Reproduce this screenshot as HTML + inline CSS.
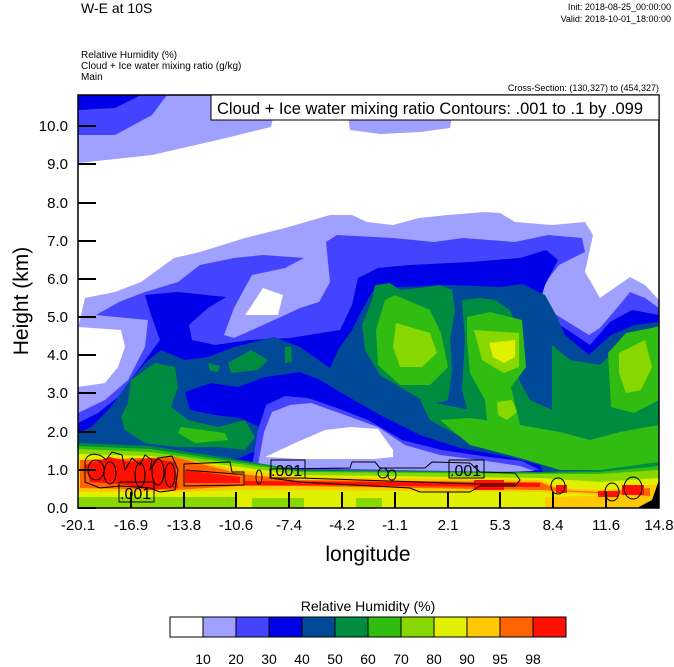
<!DOCTYPE html>
<html><head><meta charset="utf-8"><style>
body{margin:0;background:#fff;width:674px;height:667px;overflow:hidden;font-family:"Liberation Sans",sans-serif}
svg{display:block}
</style></head><body>
<svg width="674" height="667" viewBox="0 0 674 667" xmlns="http://www.w3.org/2000/svg" font-family="Liberation Sans, sans-serif">
<defs><clipPath id="c"><rect x="78" y="95" width="581" height="413"/></clipPath></defs>
<g clip-path="url(#c)" stroke-linejoin="round">
<rect x="78" y="95" width="581" height="413" fill="#fff"/>
<polygon fill="#a0a0ff" points="78,95 278,95 271,127 226,138 152,155 78,163"/>
<polygon fill="#a0a0ff" points="345,95 456,95 450,128 420,132 380,134 350,130"/>
<polygon fill="#4444ff" points="78,95 167,95 152,115 115,135 78,135"/>
<polygon fill="#0000e8" points="78,95 141,95 115,108 78,110"/>
<polygon fill="#a0a0ff" points="78,328 85,298 115,292 141,282 174,258 200,252 245,238 285,228 330,215 352,215 367,222 393,225 419,218 448,215 485,212 500,213 515,222 552,225 585,222 593,235 585,272 600,298 630,277 645,285 659,300 659,508 78,508"/>
<polygon fill="#fff" points="78,327 121,330 125,347 118,367 105,383 78,387"/>
<polygon fill="#fff" points="263,288 283,295 278,315 245,315 252,305"/>
<polygon fill="#4444ff" points="96,315 119,302 145,292 178,282 200,265 234,258 263,255 304,258 285,268 252,275 241,295 234,308 224,335 234,338 263,325 285,315 300,308 319,302 330,282 326,242 337,235 393,238 434,242 463,238 515,242 548,235 582,238 585,252 559,265 541,288 537,295 545,308 589,335 600,328 622,302 630,292 645,298 659,308 659,508 78,508 78,413 105,400 128,380 145,347 148,320"/>
<polygon fill="#0000e8" points="78,423 98,413 118,397 138,370 160,340 150,312 145,295 178,292 226,297 208,308 189,325 192,340 215,345 250,340 290,338 340,330 352,305 358,278 378,268 410,265 470,262 520,258 546,250 558,260 545,285 538,308 560,325 590,345 610,322 632,310 659,315 659,508 78,508"/>
<polygon fill="#004898" points="78,433 91,427 111,407 128,383 145,363 161,350 185,360 208,357 234,347 274,337 300,347 330,368 338,350 352,330 362,310 372,292 400,287 450,285 500,287 522,284 545,295 556,315 565,335 589,355 611,335 634,325 659,322 659,508 78,508"/>
<polygon fill="#008c40" points="372,300 375,285 390,283 400,290 420,288 440,285 452,290 455,310 450,340 452,370 448,400 430,405 410,393 380,375 365,350 362,325"/>
<polygon fill="#008c40" points="462,300 480,298 495,300 510,310 518,330 520,345 519,380 530,400 552,410 548,440 500,435 470,420 462,390 465,340"/>
<polygon fill="#008c40" points="552,345 570,360 600,365 620,345 640,335 659,325 659,460 600,465 560,455 540,440 552,410"/>
<polygon fill="#008c40" points="420,400 470,410 520,420 560,430 600,440 659,440 659,470 560,470 520,458 470,442 430,420"/>
<polygon fill="#008c40" points="131,380 155,363 175,367 178,387 171,407 188,420 218,427 245,420 255,437 245,450 218,447 178,447 145,443 125,430 121,417 128,403"/>
<polygon fill="#008c40" points="228,363 251,350 268,360 258,370 231,373"/>
<polygon fill="#008c40" points="208,363 220,366 218,372 210,371"/>
<polygon fill="#008c40" points="285,347 291,346 292,362 285,363"/>
<polygon fill="#0000e8" points="185,392 211,383 238,387 265,377 300,372 320,380 345,395 380,415 420,435 460,448 500,455 540,465 545,478 300,478 230,472 212,462 240,458 262,448 262,428 240,418 215,415 190,410"/>
<polygon fill="#4444ff" points="252,466 258,430 266,405 285,396 308,398 337,408 368,420 402,440 442,450 482,456 522,461 540,470 500,473 400,471 300,470"/>
<polygon fill="#a0a0ff" points="258,465 264,432 272,412 290,405 311,403 345,415 378,427 405,445 440,455 480,460 520,466 534,471 500,472 400,470 300,468"/>
<polygon fill="#fff" points="265,457 295,443 325,430 351,427 378,429 393,450 393,457 374,459 300,459"/>
<polygon fill="#30bc10" points="385,300 395,295 430,310 441,333 448,367 430,385 400,385 378,365 376,330"/>
<polygon fill="#30bc10" points="467,317 490,312 522,320 526,367 511,387 522,433 489,440 485,400 470,373 467,340"/>
<polygon fill="#30bc10" points="608,353 626,333 656,327 659,327 659,400 634,413 611,407"/>
<polygon fill="#30bc10" points="440,420 470,418 520,425 560,432 590,440 620,432 659,425 659,470 560,470 520,458 470,445"/>
<polygon fill="#30bc10" points="181,427 225,433 228,440 195,443 178,433"/>
<polygon fill="#88d800" points="396,323 430,333 437,353 422,367 400,367 393,347"/>
<polygon fill="#88d800" points="474,330 519,333 519,367 504,373 482,360"/>
<polygon fill="#e0f000" points="489,343 515,340 515,357 504,363 493,357"/>
<polygon fill="#88d800" points="497,402 512,400 517,412 507,420 498,415"/>
<polygon fill="#88d800" points="619,353 645,340 652,367 641,390 626,393 619,373"/>
<polygon fill="#008c40" points="78,443 150,446 240,460 300,470 540,472 600,470 659,462 659,508 78,508"/>
<polygon fill="#30bc10" points="78,446 150,449 240,462 300,471 540,473 600,472 659,466 659,508 78,508"/>
<polygon fill="#88d800" points="78,449 150,452 240,464 300,472 540,474 600,474 659,470 659,508 78,508"/>
<polygon fill="#e0f000" points="78,454 150,456 240,467 300,475 540,478 600,482 659,478 659,508 78,508"/>
<polygon fill="#88d800" points="78,497 237,497 237,508 78,508"/>
<rect x="252" y="498" width="52" height="10" fill="#88d800"/>
<rect x="356" y="498" width="26" height="10" fill="#88d800"/>
<polygon fill="#ffc800" points="78,460 180,458 240,470 300,477 540,480 560,488 600,490 659,484 659,498 540,492 300,490 240,490 180,492 78,492"/>
<polygon fill="#ffc800" points="545,497 640,495 659,490 659,508 545,508"/>
<polygon fill="#ff6400" points="80,460 175,457 240,474 300,480 540,482 560,490 600,492 650,488 650,496 540,490 300,486 240,486 175,490 80,488"/>
<polygon fill="#ff1000" points="85,465 110,457 130,462 150,458 175,462 178,488 150,490 120,484 90,482"/>
<polygon fill="#ff1000" points="185,470 240,477 240,483 185,483"/>
<polygon fill="#ff1000" points="245,481 540,483 540,487 245,485"/>
<rect x="474" y="480" width="30" height="10" fill="#ff1000"/>
<rect x="556" y="485" width="11" height="8" fill="#ff1000"/>
<rect x="622" y="485" width="22" height="10" fill="#ff1000"/>
<rect x="598" y="491" width="20" height="6" fill="#ff1000"/>
<polygon fill="#000" points="637,508 652,500 659,480 659,508"/>
<g fill="none" stroke="#000" stroke-width="1">
<path d="M85,462 C86,452 100,452 106,460 L112,452 L122,455 L125,470 L132,458 L140,465 L145,455 L152,460 L150,470 L158,458 L172,456 L178,470 L175,490 L160,492 L150,488 L120,486 L100,488 L85,482 Z"/>
<ellipse cx="96" cy="470" rx="8" ry="10"/><ellipse cx="110" cy="473" rx="6" ry="11"/><ellipse cx="140" cy="475" rx="5" ry="12"/><ellipse cx="158" cy="472" rx="6" ry="13"/><ellipse cx="170" cy="475" rx="5" ry="12"/>
<path d="M184,464 L230,462 L232,472 L244,472 L244,485 L184,486 Z"/>
<path d="M186,470 L235,474 L243,474"/>
<ellipse cx="259" cy="477" rx="3" ry="7"/>
<path d="M270,469 L350,468 L352,462 L375,462 L380,468 L425,468 L432,462 L470,463 L480,472 L515,473 L520,480 L515,486 L480,486 L470,492 L420,492 L410,488 L300,482 L270,478 Z"/>
<path d="M300,478 L420,482 L480,484 L515,484"/>
<ellipse cx="383" cy="473" rx="5" ry="5"/><ellipse cx="392" cy="475" rx="4" ry="5"/>
<ellipse cx="558" cy="486" rx="7" ry="8"/><ellipse cx="612" cy="492" rx="7" ry="9"/><ellipse cx="633" cy="488" rx="9" ry="11"/>
</g>
<g font-size="16" font-family="Liberation Sans, sans-serif">
<rect x="119" y="482" width="35" height="20" fill="none" stroke="#000"/><text x="120" y="499">.001</text>
<rect x="271" y="460" width="34" height="18" fill="none" stroke="#000"/><text x="271" y="476">.001</text>
<rect x="449" y="460" width="35" height="18" fill="none" stroke="#000"/><text x="450" y="476">.001</text>
</g>
</g>
<rect x="78" y="95" width="581" height="413" fill="none" stroke="#000" stroke-width="1.5"/>
<g stroke="#000" stroke-width="2">
<path d="M78,508h18M78,470h18M78,432h18M78,393h18M78,355h18M78,317h18M78,279h18M78,241h18M78,203h18M78,164h18M78,126h18"/>
<path d="M131,508v-16M184,508v-16M236,508v-16M289,508v-16M342,508v-16M395,508v-16M448,508v-16M500,508v-16M553,508v-16M606,508v-16"/>
</g>
<g font-size="15" text-anchor="end">
<text x="68" y="513">0.0</text><text x="68" y="475">1.0</text><text x="68" y="437">2.0</text><text x="68" y="398">3.0</text><text x="68" y="360">4.0</text><text x="68" y="322">5.0</text><text x="68" y="284">6.0</text><text x="68" y="246">7.0</text><text x="68" y="208">8.0</text><text x="68" y="169">9.0</text><text x="68" y="131">10.0</text>
</g>
<g font-size="15" text-anchor="middle">
<text x="78" y="530">-20.1</text><text x="131" y="530">-16.9</text><text x="184" y="530">-13.8</text><text x="236" y="530">-10.6</text><text x="289" y="530">-7.4</text><text x="342" y="530">-4.2</text><text x="395" y="530">-1.1</text><text x="448" y="530">2.1</text><text x="500" y="530">5.3</text><text x="553" y="530">8.4</text><text x="606" y="530">11.6</text><text x="659" y="530">14.8</text>
</g>
<text x="368" y="561" font-size="21" text-anchor="middle">longitude</text>
<text transform="translate(28,301) rotate(-90)" font-size="21" text-anchor="middle">Height (km)</text>
<rect x="211" y="95" width="448" height="25" fill="#fff" stroke="#000"/>
<text x="217" y="114" font-size="16.5">Cloud + Ice water mixing ratio Contours: .001 to .1 by .099</text>
<text x="81" y="13" font-size="14">W-E at 10S</text>
<g font-size="9" text-anchor="end"><text x="671" y="10">Init: 2018-08-25_00:00:00</text><text x="671" y="22">Valid: 2018-10-01_18:00:00</text><text x="659" y="91">Cross-Section: (130,327) to (454,327)</text></g>
<g font-size="10"><text x="81" y="58">Relative Humidity   (%)</text><text x="81" y="69">Cloud + Ice water mixing ratio   (g/kg)</text><text x="81" y="80">Main</text></g>
<text x="368" y="611" font-size="14" text-anchor="middle">Relative Humidity  (%)</text>
<g stroke="#000" stroke-width="1">
<rect x="170" y="617" width="33" height="20" fill="#fff"/><rect x="203" y="617" width="33" height="20" fill="#a0a0ff"/><rect x="236" y="617" width="33" height="20" fill="#4444ff"/><rect x="269" y="617" width="33" height="20" fill="#0000e8"/><rect x="302" y="617" width="33" height="20" fill="#004898"/><rect x="335" y="617" width="33" height="20" fill="#008c40"/><rect x="368" y="617" width="33" height="20" fill="#30bc10"/><rect x="401" y="617" width="33" height="20" fill="#88d800"/><rect x="434" y="617" width="33" height="20" fill="#e0f000"/><rect x="467" y="617" width="33" height="20" fill="#ffc800"/><rect x="500" y="617" width="33" height="20" fill="#ff6400"/><rect x="533" y="617" width="33" height="20" fill="#ff1000"/>
</g>
<g font-size="14" text-anchor="middle">
<text x="203" y="664">10</text><text x="236" y="664">20</text><text x="269" y="664">30</text><text x="302" y="664">40</text><text x="335" y="664">50</text><text x="368" y="664">60</text><text x="401" y="664">70</text><text x="434" y="664">80</text><text x="467" y="664">90</text><text x="500" y="664">95</text><text x="533" y="664">98</text>
</g>
</svg>
</body></html>
